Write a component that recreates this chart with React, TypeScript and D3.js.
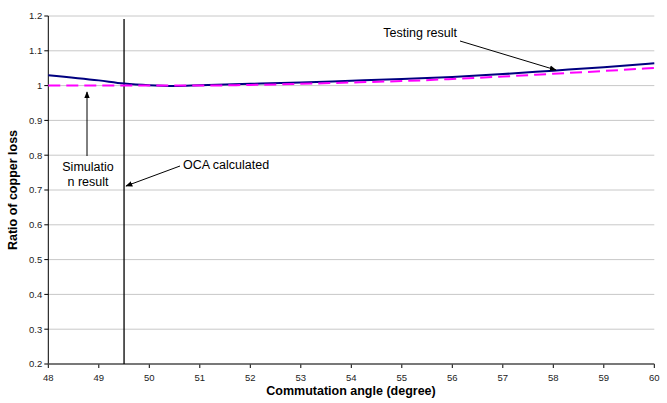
import React from "react";
import * as d3 from "d3";

const testingX = [48, 49, 49.5, 50, 50.5, 51, 52, 53, 54, 55, 56, 57, 58, 59, 60];
const testingY = [1.03, 1.015, 1.006, 1.001, 0.999, 1.001, 1.005, 1.009, 1.014, 1.019, 1.025, 1.033, 1.043, 1.053, 1.064];
const simX = [48, 49, 50, 51, 52, 53, 54, 55, 56, 57, 58, 59, 60];
const simY = [1.0, 1.0, 1.0, 1.0, 1.002, 1.005, 1.009, 1.013, 1.019, 1.026, 1.034, 1.042, 1.051];
const xTicks = [48, 49, 50, 51, 52, 53, 54, 55, 56, 57, 58, 59, 60];
const yTicks = [0.2, 0.3, 0.4, 0.5, 0.6, 0.7, 0.8, 0.9, 1.0, 1.1, 1.2];
const ocaAngle = 49.5;

export default function App() {
  const W = 667, H = 403;
  const x = d3.scaleLinear().domain([48, 60]).range([48.3, 654.3]);
  const y = d3.scaleLinear().domain([0.2, 1.2]).range([364, 16]);
  const font = "'Liberation Sans', Arial, sans-serif";
  const line = d3.line<[number, number]>().x(d => x(d[0])).y(d => y(d[1])).curve(d3.curveMonotoneX);
  const testPts = testingX.map((v, i) => [v, testingY[i]] as [number, number]);
  const simPts = simX.map((v, i) => [v, simY[i]] as [number, number]);
  const yFmt = (v: number) => (Math.abs(v - 1) < 1e-9 ? "1" : d3.format(".1f")(v));
  const fs = 12.5;
  return (
    <svg width={W} height={H} style={{ position: "absolute", left: 0, top: 0, background: "#fff" }} fontFamily={font}>
      <defs>
        <marker id="ah" viewBox="0 0 10 10" refX="9" refY="5" markerWidth="7" markerHeight="7" orient="auto-start-reverse" markerUnits="userSpaceOnUse">
          <path d="M0,1 L10,5 L0,9 z" fill="#000" />
        </marker>
      </defs>
      {yTicks.map(t => (
        <line key={"g" + t} x1={x(48)} x2={x(60)} y1={y(t)} y2={y(t)} stroke="#c8c8c8" strokeWidth={1} />
      ))}
      {yTicks.map(t => (
        <g key={"yt" + t}>
          <line x1={x(48) - 4} x2={x(48)} y1={y(t)} y2={y(t)} stroke="#000" />
          <text x={x(48) - 6} y={y(t)} dy="0.35em" textAnchor="end" fontSize={9.5} fill="#222">{yFmt(t)}</text>
        </g>
      ))}
      {xTicks.map(t => (
        <g key={"xt" + t}>
          <line x1={x(t)} x2={x(t)} y1={y(0.2)} y2={y(0.2) + 4} stroke="#000" />
          <text x={x(t)} y={y(0.2) + 17} textAnchor="middle" fontSize={9.5} fill="#222">{t}</text>
        </g>
      ))}
      <line x1={x(48)} x2={x(48)} y1={y(1.2)} y2={y(0.2)} stroke="#000" strokeWidth={1} />
      <line x1={x(48)} x2={x(60)} y1={y(0.2)} y2={y(0.2)} stroke="#555" strokeWidth={1.5} />
      <line x1={x(ocaAngle)} x2={x(ocaAngle)} y1={19} y2={y(0.2)} stroke="#000" strokeWidth={1.3} />
      <path d={line(testPts) || ""} fill="none" stroke="#000080" strokeWidth={2} />
      <path d={line(simPts) || ""} fill="none" stroke="#ff00ff" strokeWidth={2} strokeDasharray="12,6" />
      <text x={457} y={37} fontSize={fs} textAnchor="end" fill="#000">Testing result</text>
      <line x1={460} y1={41} x2={556} y2={70} stroke="#000" strokeWidth={1} markerEnd="url(#ah)" />
      <text x={88} y={171} fontSize={fs} textAnchor="middle" fill="#000">Simulatio</text>
      <text x={88} y={186} fontSize={fs} textAnchor="middle" fill="#000">n result</text>
      <line x1={87} y1={156} x2={87} y2={92} stroke="#000" strokeWidth={1} markerEnd="url(#ah)" />
      <text x={183} y={169} fontSize={fs} fill="#000">OCA calculated</text>
      <line x1={180} y1={166} x2={126} y2={186} stroke="#000" strokeWidth={1} markerEnd="url(#ah)" />
      <text transform={`translate(17,${y(0.7)}) rotate(-90)`} textAnchor="middle" fontSize={fs} fontWeight="bold" fill="#000">Ratio of copper loss</text>
      <text x={351} y={395} textAnchor="middle" fontSize={fs} fontWeight="bold" fill="#000">Commutation angle (degree)</text>
    </svg>
  );
}
